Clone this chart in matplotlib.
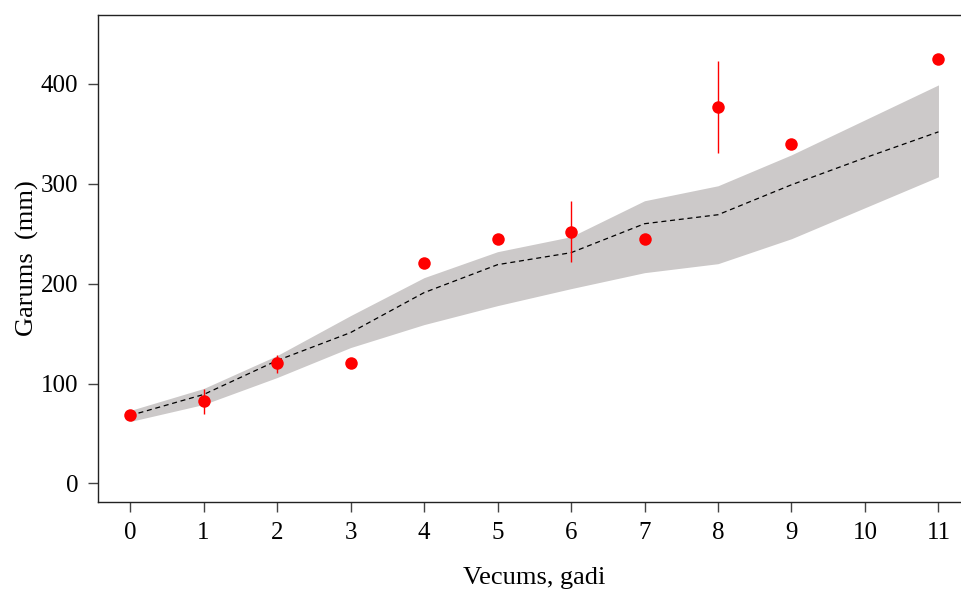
import matplotlib
matplotlib.use("Agg")
import matplotlib.pyplot as plt
import numpy as np

plt.rcParams['font.family'] = ['Liberation Serif', 'DejaVu Serif']

# model band (age 0..11)
ages = [0, 1, 2, 3, 4, 5, 6, 7, 8, 9, 10, 11]
model_mean = [68, 89, 123, 151, 191, 219, 231, 260, 269, 299, 326, 352]
model_upper = [73, 95, 128, 168, 206, 232, 247, 283, 298, 329, 364, 399]
model_lower = [62, 79, 106, 136, 159, 178, 195, 211, 220, 245, 276, 307]

# observed means, with ranges where visible
obs_age = [0, 1, 2, 3, 4, 5, 6, 7, 8, 9, 11]
obs_mean = [68, 83, 121, 121, 221, 245, 252, 245, 377, 340, 425]
obs_low = [np.nan, 69, 111, np.nan, np.nan, np.nan, 222, np.nan, 331, np.nan, np.nan]
obs_high = [np.nan, 95, 129, np.nan, np.nan, np.nan, 283, np.nan, 423, np.nan, np.nan]

fig = plt.figure(figsize=(9.61, 5.90), dpi=100)
ax = fig.add_axes([0.1017, 0.149, 0.9085, 0.8256])

ax.fill_between(ages, model_lower, model_upper, color='#ccc9c9', linewidth=0)
ax.plot(ages, model_mean, color='black', linestyle=(0, (4, 3)), linewidth=0.9)

ax.vlines(obs_age, obs_low, obs_high, color='red', linewidth=1)
ax.plot(obs_age, obs_mean, 'o', color='red', markersize=9, markeredgewidth=0)

ax.set_xlim(-0.44, 11.44)
ax.set_ylim(-18.7, 469)
ax.set_xticks(ages)
ax.set_yticks([0, 100, 200, 300, 400])
ax.tick_params(direction='out', length=7, width=1, colors='#444444',
               labelcolor='black', labelsize=18)
ax.tick_params(axis='x', pad=7)
ax.tick_params(axis='y', pad=7)
for s in ax.spines.values():
    s.set_color('#222222')
    s.set_linewidth(1)

ax.set_xlabel('Vecums, gadi', fontsize=19, labelpad=17)
ax.set_ylabel('Garums  (mm)', fontsize=19, labelpad=1)

fig.savefig('out.png', dpi=100)
